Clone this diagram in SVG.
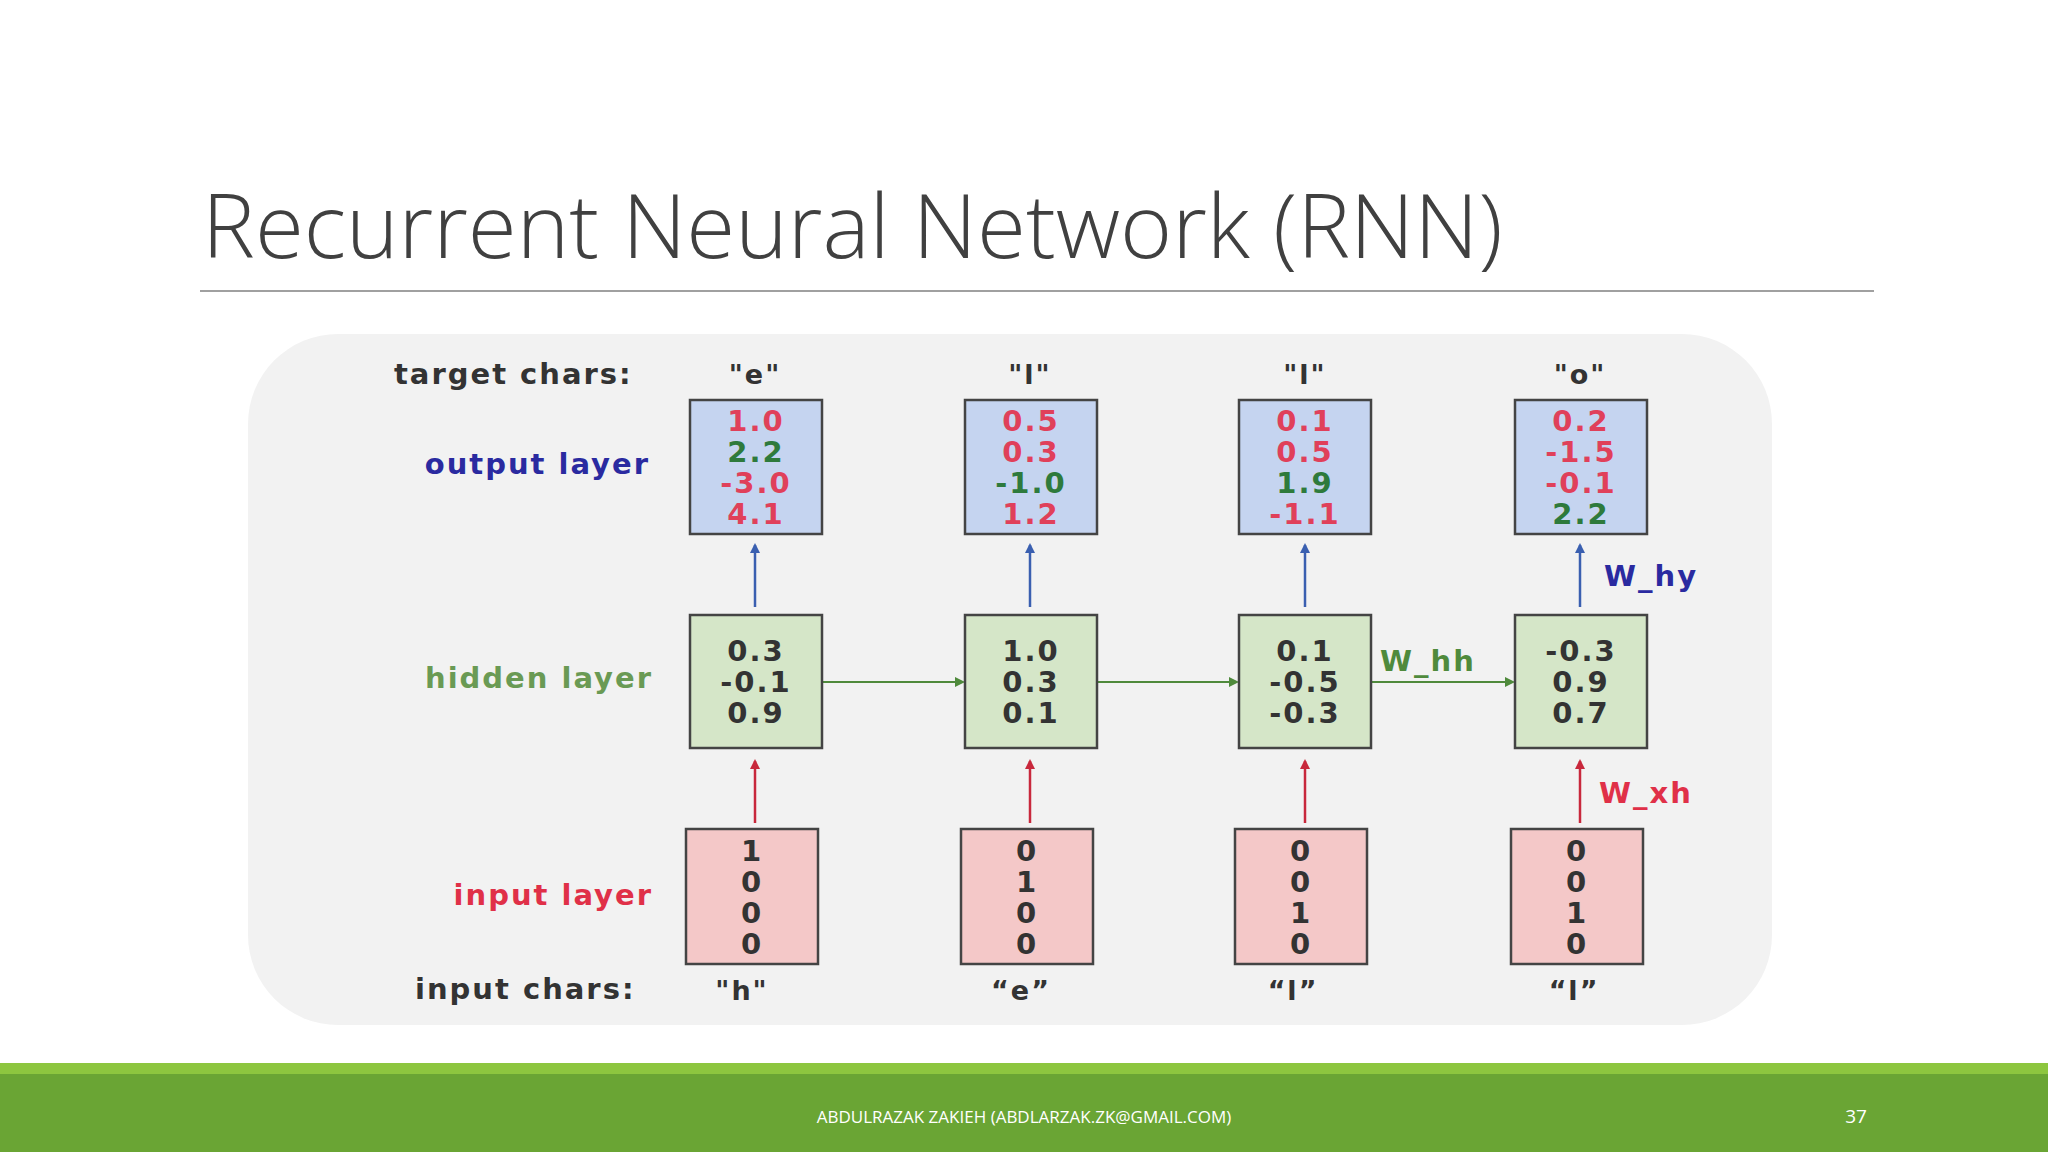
<svg xmlns="http://www.w3.org/2000/svg" width="2048" height="1152" viewBox="0 0 2048 1152">
<defs>
<marker id="ab" markerWidth="10" markerHeight="10" refX="8" refY="5" orient="auto" markerUnits="userSpaceOnUse"><path d="M0,0 L10,5 L0,10 z" fill="#3a5fb0"/></marker>
<marker id="ar" markerWidth="10" markerHeight="10" refX="8" refY="5" orient="auto" markerUnits="userSpaceOnUse"><path d="M0,0 L10,5 L0,10 z" fill="#c8283c"/></marker>
<marker id="ag" markerWidth="10" markerHeight="10" refX="8" refY="5" orient="auto" markerUnits="userSpaceOnUse"><path d="M0,0 L10,5 L0,10 z" fill="#4f8a3c"/></marker>
</defs>
<style>
text{font-family:"DejaVu Sans","Liberation Sans",sans-serif;font-weight:600;letter-spacing:2px}
.v{font-size:29px;text-anchor:middle}
.r{fill:#e0405a}.g{fill:#2e7a3c}.k{fill:#333}
.lab{font-size:29px;text-anchor:end}
.out{fill:#c5d4f0;stroke:#444;stroke-width:2.5}
.hid{fill:#d5e6c8;stroke:#444;stroke-width:2.5}
.inp{fill:#f4c8c8;stroke:#444;stroke-width:2.5}
.ch{font-size:27px;text-anchor:middle;fill:#333}
</style>
<rect width="2048" height="1152" fill="#fff"/>
<text x="202" y="258" style="font-family:'Open Sans',sans-serif;font-weight:300;font-size:89px;letter-spacing:0" fill="#404040">Recurrent Neural Network (RNN)</text>
<line x1="200" y1="291" x2="1874" y2="291" stroke="#a0a0a0" stroke-width="2"/>
<rect x="248" y="334" width="1524" height="691" rx="90" fill="#f2f2f2"/>
<g id="labels">
<text x="394" y="384" style="font-size:29px" fill="#333">target chars:</text>
<text class="lab" x="650" y="474" fill="#2a2aa0">output layer</text>
<text class="lab" x="653" y="688" fill="#6a9a54">hidden layer</text>
<text class="lab" x="653" y="905" fill="#e03048">input layer</text>
<text x="415" y="999" style="font-size:29px" fill="#333">input chars:</text>
<text class="ch" x="755" y="384" fill="#7a9a6a">"e"</text>
<text class="ch" x="1030" y="384" fill="#7a9a6a">"l"</text>
<text class="ch" x="1305" y="384" fill="#7a9a6a">"l"</text>
<text class="ch" x="1580" y="384" fill="#7a9a6a">"o"</text>
<text class="ch" x="742" y="1000">"h"</text>
<text class="ch" x="1021" y="1000">“e”</text>
<text class="ch" x="1293" y="1000">“l”</text>
<text class="ch" x="1574" y="1000">“l”</text>
<text x="1604" y="586" style="font-size:29px" fill="#2a2aa0">W_hy</text>
<text x="1380" y="671" style="font-size:29px" fill="#4f8a3c">W_hh</text>
<text x="1599" y="803" style="font-size:29px" fill="#e03048">W_xh</text>
</g>
<g id="connectors">
<g stroke="#3a5fb0" stroke-width="2.5" marker-end="url(#ab)">
<line x1="755" y1="607" x2="755" y2="545"/><line x1="1030" y1="607" x2="1030" y2="545"/><line x1="1305" y1="607" x2="1305" y2="545"/><line x1="1580" y1="607" x2="1580" y2="545"/>
</g>
<g stroke="#c8283c" stroke-width="2.5" marker-end="url(#ar)">
<line x1="755" y1="823" x2="755" y2="761"/><line x1="1030" y1="823" x2="1030" y2="761"/><line x1="1305" y1="823" x2="1305" y2="761"/><line x1="1580" y1="823" x2="1580" y2="761"/>
</g>
<g stroke="#4f8a3c" stroke-width="2" marker-end="url(#ag)">
<line x1="823" y1="682" x2="963" y2="682"/><line x1="1098" y1="682" x2="1237" y2="682"/><line x1="1372" y1="682" x2="1513" y2="682"/>
</g>
</g>
<g id="out1"><rect class="out" x="690" y="400" width="132" height="134"/><text class="v"><tspan class="r" x="756" y="431">1.0</tspan><tspan class="g" x="756" y="462">2.2</tspan><tspan class="r" x="756" y="493">-3.0</tspan><tspan class="r" x="756" y="524">4.1</tspan></text></g>
<g id="out2"><rect class="out" x="965" y="400" width="132" height="134"/><text class="v"><tspan class="r" x="1031" y="431">0.5</tspan><tspan class="r" x="1031" y="462">0.3</tspan><tspan class="g" x="1031" y="493">-1.0</tspan><tspan class="r" x="1031" y="524">1.2</tspan></text></g>
<g id="out3"><rect class="out" x="1239" y="400" width="132" height="134"/><text class="v"><tspan class="r" x="1305" y="431">0.1</tspan><tspan class="r" x="1305" y="462">0.5</tspan><tspan class="g" x="1305" y="493">1.9</tspan><tspan class="r" x="1305" y="524">-1.1</tspan></text></g>
<g id="out4"><rect class="out" x="1515" y="400" width="132" height="134"/><text class="v"><tspan class="r" x="1581" y="431">0.2</tspan><tspan class="r" x="1581" y="462">-1.5</tspan><tspan class="r" x="1581" y="493">-0.1</tspan><tspan class="g" x="1581" y="524">2.2</tspan></text></g>
<g id="hid1"><rect class="hid" x="690" y="615" width="132" height="133"/><text class="v k"><tspan x="756" y="661">0.3</tspan><tspan x="756" y="692">-0.1</tspan><tspan x="756" y="723">0.9</tspan></text></g>
<g id="hid2"><rect class="hid" x="965" y="615" width="132" height="133"/><text class="v k"><tspan x="1031" y="661">1.0</tspan><tspan x="1031" y="692">0.3</tspan><tspan x="1031" y="723">0.1</tspan></text></g>
<g id="hid3"><rect class="hid" x="1239" y="615" width="132" height="133"/><text class="v k"><tspan x="1305" y="661">0.1</tspan><tspan x="1305" y="692">-0.5</tspan><tspan x="1305" y="723">-0.3</tspan></text></g>
<g id="hid4"><rect class="hid" x="1515" y="615" width="132" height="133"/><text class="v k"><tspan x="1581" y="661">-0.3</tspan><tspan x="1581" y="692">0.9</tspan><tspan x="1581" y="723">0.7</tspan></text></g>
<g id="in1"><rect class="inp" x="686" y="829" width="132" height="135"/><text class="v k"><tspan x="752" y="861">1</tspan><tspan x="752" y="892">0</tspan><tspan x="752" y="923">0</tspan><tspan x="752" y="954">0</tspan></text></g>
<g id="in2"><rect class="inp" x="961" y="829" width="132" height="135"/><text class="v k"><tspan x="1027" y="861">0</tspan><tspan x="1027" y="892">1</tspan><tspan x="1027" y="923">0</tspan><tspan x="1027" y="954">0</tspan></text></g>
<g id="in3"><rect class="inp" x="1235" y="829" width="132" height="135"/><text class="v k"><tspan x="1301" y="861">0</tspan><tspan x="1301" y="892">0</tspan><tspan x="1301" y="923">1</tspan><tspan x="1301" y="954">0</tspan></text></g>
<g id="in4"><rect class="inp" x="1511" y="829" width="132" height="135"/><text class="v k"><tspan x="1577" y="861">0</tspan><tspan x="1577" y="892">0</tspan><tspan x="1577" y="923">1</tspan><tspan x="1577" y="954">0</tspan></text></g>
<rect x="0" y="1063" width="2048" height="89" fill="#6aa534"/>
<rect x="0" y="1063" width="2048" height="11" fill="#8dc63f"/>
<text x="1024" y="1123" text-anchor="middle" style="font-family:'Open Sans',sans-serif;font-weight:normal;font-size:17px;letter-spacing:0" fill="#fff">ABDULRAZAK ZAKIEH (ABDLARZAK.ZK@GMAIL.COM)</text>
<text x="1856" y="1123" text-anchor="middle" style="font-family:'Open Sans',sans-serif;font-weight:normal;font-size:19px;letter-spacing:0" fill="#fff">37</text>
</svg>
